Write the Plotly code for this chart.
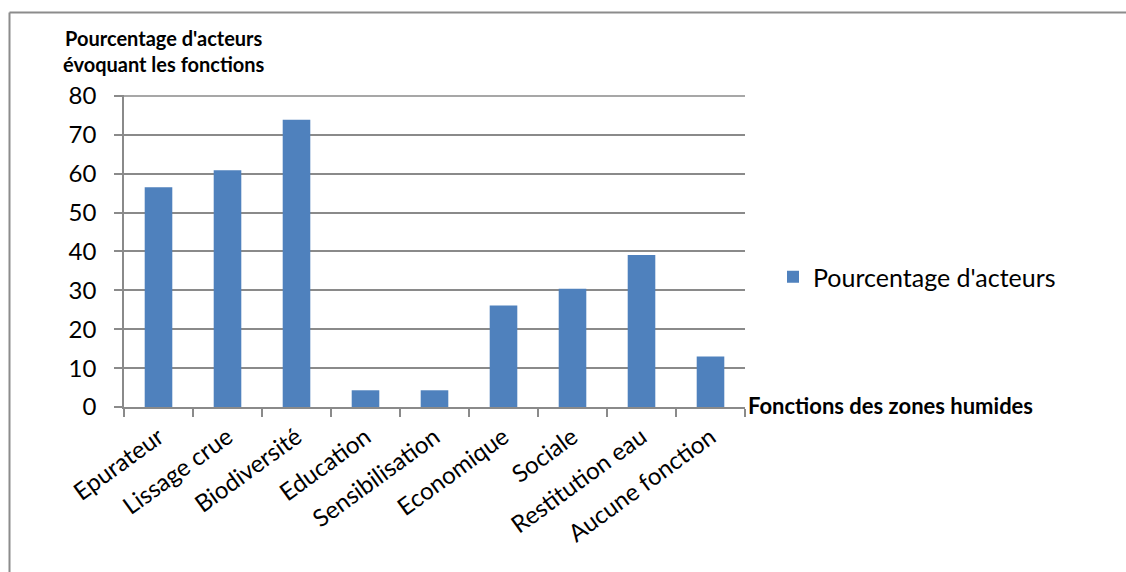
import plotly.graph_objects as go

# Wetland functions cited by local actors (share of actors, %)
categories = ["Epurateur", "Lissage crue", "Biodiversité", "Education", "Sensibilisation",
              "Economique", "Sociale", "Restitution eau", "Aucune fonction"]
pourcentage = [56.5, 60.9, 73.9, 4.3, 4.3, 26.1, 30.4, 39.1, 13.0]
y_ticks = [0, 10, 20, 30, 40, 50, 60, 70, 80]

W, H = 1126, 572
L, R, T, B = 124, 381, 95, 165
pw, ph = W - L - R, H - T - B


def px(x):
    return (x - L) / pw


def py(y):
    return (H - B - y) / ph


FONT = "Lato"
GRID = "#8a8a8a"

fig = go.Figure()
fig.add_trace(go.Bar(
    x=categories, y=pourcentage, name="Pourcentage d'acteurs",
    marker=dict(color="#4F81BD", line=dict(width=0)),
))

fig.update_layout(
    width=W, height=H,
    margin=dict(l=L, r=R, t=T, b=B, pad=0),
    paper_bgcolor="white", plot_bgcolor="white",
    bargap=0.6,
    font=dict(family=FONT, color="black"),
    showlegend=True,
    legend=dict(x=px(773), y=py(277), xanchor="left", yanchor="middle",
                font=dict(size=25, family=FONT, color="black"),
                bgcolor="rgba(0,0,0,0)", itemwidth=30),
    xaxis=dict(
        type="category", tickson="boundaries", ticks="outside", ticklen=8,
        tickcolor=GRID, tickwidth=1.5, showline=True, linecolor=GRID, linewidth=1.5,
        showgrid=False, tickangle=-36, tickfont=dict(size=24, family=FONT),
        ticklabelstandoff=5,
    ),
    yaxis=dict(
        range=[0, 80.25], tickvals=y_ticks, ticks="outside", ticklen=8,
        tickcolor=GRID, tickwidth=1.5, showline=True, linecolor=GRID, linewidth=1.5,
        showgrid=True, gridcolor=GRID, gridwidth=1.5, zeroline=False,
        tickfont=dict(size=24, family=FONT), ticklabelstandoff=13,
    ),
)

# gridline at the top of the value range
fig.add_shape(type="line", xref="paper", yref="y", x0=0, x1=1,
              y0=y_ticks[-1], y1=y_ticks[-1], line=dict(color=GRID, width=1.5))

# axis titles placed as in the original layout
fig.add_annotation(
    xref="paper", yref="paper", x=px(164), y=py(51), xanchor="center", yanchor="middle",
    text="<b>Pourcentage d'acteurs<br>évoquant les fonctions</b>", showarrow=False,
    font=dict(size=20, family=FONT, color="black"), align="center",
)
fig.add_annotation(
    xref="paper", yref="paper", x=px(746), y=py(405), xanchor="left", yanchor="middle",
    text="<b>Fonctions des zones humides</b>", showarrow=False,
    font=dict(size=22, family=FONT, color="black"),
)

# outer chart frame (top and left edges)
fig.add_shape(type="line", xref="paper", yref="paper",
              x0=px(9.5), y0=py(12.5), x1=px(W + 5), y1=py(12.5),
              line=dict(color="#8c8c8c", width=2))
fig.add_shape(type="line", xref="paper", yref="paper",
              x0=px(9.5), y0=py(12.5), x1=px(9.5), y1=py(H + 5),
              line=dict(color="#8c8c8c", width=2))

fig.write_html("out.html")
